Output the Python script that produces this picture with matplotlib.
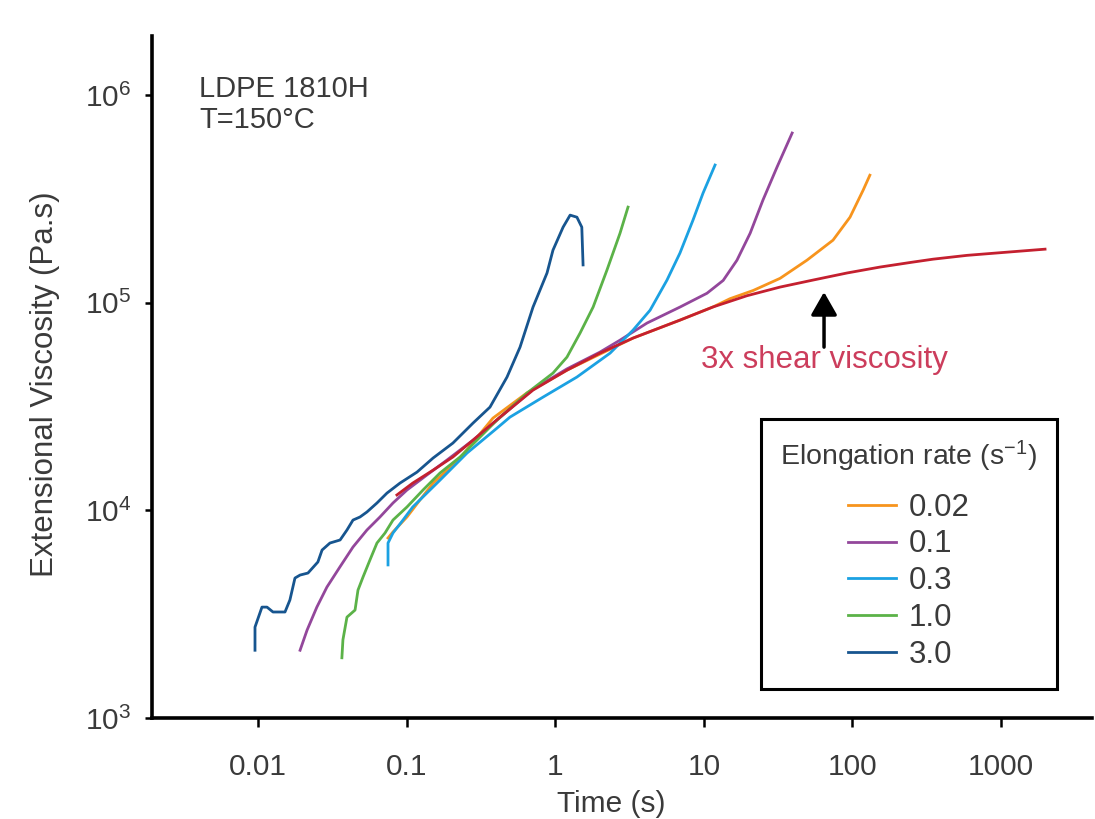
import matplotlib
matplotlib.use('Agg')
import matplotlib.pyplot as plt
from matplotlib.ticker import FixedLocator, FixedFormatter, NullLocator, LogFormatterSciNotation

plt.rcParams['font.family'] = ['Liberation Sans', 'DejaVu Sans']
plt.rcParams['mathtext.fontset'] = 'custom'
plt.rcParams['mathtext.rm'] = 'Liberation Sans'

TEXT = '#3a3a3a'

# elongation rates (1/s) and their colours
rate_labels = ['0.02', '0.1', '0.3', '1.0', '3.0']
rate_colors = ['#F7941D', '#93479B', '#1BA1E2', '#5BB248', '#17558F']

# transient extensional viscosity (Pa.s) vs time (s)
t_002 = [0.075, 0.081, 0.1006, 0.123, 0.151, 0.229, 0.381, 0.646, 1.20, 3.34, 6.92,
         11.5, 15.0, 21.5, 32.6, 49.5, 74.0, 96.3, 118, 131]
eta_002 = [7360, 7870, 9290, 11220, 13530, 17860, 27800, 36800, 47320, 67530, 82450,
           95300, 104500, 114500, 131000, 160300, 200000, 258000, 348000, 411000]

t_01 = [0.0192, 0.0214, 0.0249, 0.0291, 0.0356, 0.0436, 0.0541, 0.0662, 0.0810, 0.1006,
        0.137, 0.187, 0.280, 0.406, 0.709, 1.20, 2.0, 2.73, 4.15, 6.92, 10.5, 13.5,
        16.7, 20.5, 25.0, 31.1, 39.3]
eta_01 = [2120, 2650, 3420, 4270, 5340, 6660, 8040, 9290, 10850, 12530,
          14800, 17470, 21780, 27210, 38300, 48000, 57800, 66000, 79800, 95300, 111000, 128000,
          160000, 216000, 312000, 450000, 656000]

t_03 = [0.0750, 0.0750, 0.0810, 0.0946, 0.110, 0.168, 0.255, 0.406, 0.496, 0.828, 1.40,
        2.34, 3.34, 4.35, 5.65, 6.91, 8.46, 9.88, 11.9]
eta_03 = [5460, 6960, 7780, 8980, 10380, 13990, 18870, 24890, 28110, 35090, 43840,
          57150, 73760, 92000, 128400, 173400, 250000, 337000, 460000]

t_10 = [0.0367, 0.0373, 0.0397, 0.0450, 0.0471, 0.0509, 0.0567, 0.0632, 0.0716, 0.0810,
        0.1006, 0.129, 0.168, 0.229, 0.312, 0.406, 0.646, 0.966, 1.20, 1.47, 1.80, 2.23,
        2.73, 3.09]
eta_10 = [1950, 2380, 3060, 3310, 4130, 4770, 5770, 6960, 7780, 8980,
          10380, 12530, 15140, 18070, 22540, 27210, 36700, 45800, 54700, 71400, 95300, 143600,
          216000, 288500]

t_30 = [0.00955, 0.00955, 0.01064, 0.0115, 0.01262, 0.0152, 0.0164, 0.01774, 0.0192, 0.0217,
        0.0253, 0.0270, 0.0305, 0.0357, 0.0397, 0.0436, 0.0486, 0.0541, 0.0632, 0.0738,
        0.0903, 0.1175, 0.1506, 0.205, 0.280, 0.364, 0.474, 0.580, 0.709, 0.881, 0.966,
        1.13, 1.26, 1.40, 1.51, 1.54]
eta_30 = [2120, 2740, 3420, 3420, 3240, 3240, 3700, 4720, 4880, 4990,
          5640, 6440, 6960, 7200, 8040, 8980, 9290, 9820, 10850, 12110,
          13530, 15280, 17850, 21090, 26320, 31410, 43840, 61100, 95200, 139000, 179000,
          231000, 264000, 258000, 231000, 152000]

# 3x shear viscosity (linear viscoelastic envelope)
t_shear = [0.0861, 0.110, 0.151, 0.205, 0.280, 0.425, 0.709, 1.20, 2.00, 3.34, 6.92,
           11.5, 19.5, 32.6, 54.3, 92.0, 153, 250, 349, 590, 984, 1977]
eta_shear = [11860, 13530, 15630, 18070, 21780, 28110, 37930, 47320, 57150, 67530, 82450,
             95300, 108000, 118900, 128500, 139000, 148400, 156500, 162000, 169000, 174000, 181000]

series_t = [t_002, t_01, t_03, t_10, t_30]
series_eta = [eta_002, eta_01, eta_03, eta_10, eta_30]

x_ticks = [0.01, 0.1, 1, 10, 100, 1000]
x_ticklabels = ['0.01', '0.1', '1', '10', '100', '1000']
y_ticks = [1e3, 1e4, 1e5, 1e6]

fig = plt.figure(figsize=(10.95, 8.19), dpi=100)
ax = fig.add_axes([0.1388, 0.1233, 0.8582, 0.8327])

for t, eta, lab, col in zip(series_t, series_eta, rate_labels, rate_colors):
    ax.plot(t, eta, color=col, lw=2.0, label=lab)
ax.plot(t_shear, eta_shear, color='#C4202F', lw=2.0, zorder=5)

ax.set_xscale('log')
ax.set_yscale('log')
ax.set_xlim(0.001936, 4074)
ax.set_ylim(1000, 1.923e6)

ax.xaxis.set_major_locator(FixedLocator(x_ticks))
ax.xaxis.set_major_formatter(FixedFormatter(x_ticklabels))
ax.xaxis.set_minor_locator(NullLocator())
ax.yaxis.set_major_locator(FixedLocator(y_ticks))
ax.yaxis.set_major_formatter(LogFormatterSciNotation())
ax.yaxis.set_minor_locator(NullLocator())

for side in ['top', 'right']:
    ax.spines[side].set_visible(False)
for side in ['left', 'bottom']:
    ax.spines[side].set_linewidth(2.6)
    ax.spines[side].set_color('black')

ax.tick_params(axis='x', direction='out', length=6.5, width=1.8, pad=19,
               labelsize=21.5, labelcolor=TEXT)
ax.tick_params(axis='y', direction='out', length=5, width=1.8, pad=10,
               labelsize=21.5, labelcolor=TEXT)

ax.set_xlabel('Time (s)', fontsize=21.5, color=TEXT)
ax.set_ylabel('Extensional Viscosity (Pa.s)', fontsize=22.5, color=TEXT)
ax.xaxis.set_label_coords(0.489, -0.105)
ax.yaxis.set_label_coords(-0.098, 0.49)

ax.text(0.05, 0.943, 'LDPE 1810H\nT=150°C', transform=ax.transAxes, ha='left', va='top',
        fontsize=21, color=TEXT, linespacing=1.15)

ax.annotate('', xy=(64.4, 112500), xytext=(64.4, 61100),
            arrowprops=dict(arrowstyle='-|>,head_length=0.35,head_width=0.2',
                            color='black', lw=2.5, mutation_scale=40,
                            shrinkA=0, shrinkB=0))
ax.text(64.4, 53000, '3x shear viscosity', ha='center', va='center',
        fontsize=22.5, color='#CC3D5C')

leg = ax.legend(loc='upper left', bbox_to_anchor=(761 / 1095, 1 - 419 / 819),
                bbox_transform=fig.transFigure, borderaxespad=0,
                title='Elongation rate (' + r'$\mathdefault{s^{-1}}$' + ')',
                title_fontsize=20.5, fontsize=22.5, frameon=True, fancybox=False,
                framealpha=1, edgecolor='black', handlelength=1.54,
                handletextpad=0.38, labelspacing=0.22, borderpad=0.62)
leg.get_frame().set_linewidth(2.2)
leg.get_title().set_color(TEXT)
for txt in leg.get_texts():
    txt.set_color(TEXT)
leg._legend_box.sep = 13.7

fig.savefig('out.png', dpi=100)
